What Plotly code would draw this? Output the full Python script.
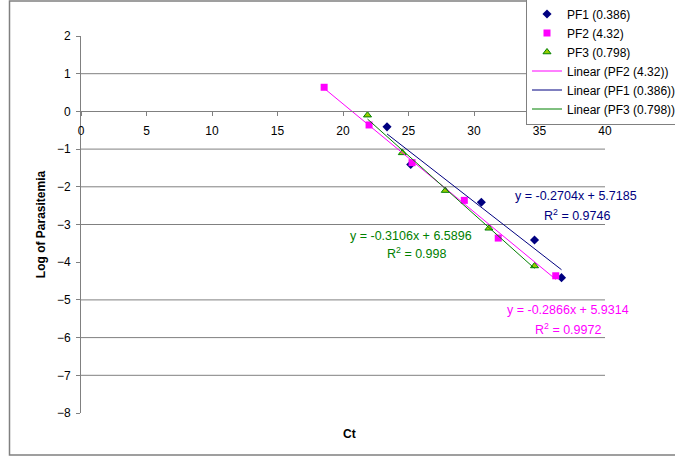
import numpy as np
import plotly.graph_objects as go

# ---- data ----
pf1_ct = [23.36, 25.17, 30.56, 34.62, 36.68]
pf1_log = [-0.41, -1.41, -2.41, -3.41, -4.41]

pf2_ct = [18.56, 21.99, 25.27, 29.26, 31.85, 36.24]
pf2_log = [0.64, -0.36, -1.36, -2.36, -3.36, -4.36]

pf3_ct = [21.87, 24.53, 27.81, 31.14, 34.62]
pf3_log = [-0.10, -1.10, -2.10, -3.10, -4.10]

series_names = ["PF1 (0.386)", "PF2 (4.32)", "PF3 (0.798)"]
trend_slope = [-0.2704, -0.2866, -0.3106]
trend_intercept = [5.7185, 5.9314, 6.5896]
trend_r2 = ["0.9746", "0.9972", "0.998"]

x_ticks = [0, 5, 10, 15, 20, 25, 30, 35, 40]
y_ticks = [2, 1, 0, -1, -2, -3, -4, -5, -6, -7, -8]
grid_y = [1, -1, -2, -3, -5, -6, -7]

FONT = "Liberation Sans, Arial, sans-serif"
NAVY = "#000080"
MAGENTA = "#FF00FF"
GREEN = "#008000"

# plot-area geometry in pixels (for converting label positions to paper coords)
L, R, T, B = 81, 605, 36, 413
def px(x):
    return (x - L) / (R - L)
def py(y):
    return (B - y) / (B - T)

fig = go.Figure()

fig.add_trace(go.Scatter(x=pf1_ct, y=pf1_log, mode="markers", name=series_names[0],
                         marker=dict(symbol="diamond", size=7, color=NAVY)))
fig.add_trace(go.Scatter(x=pf2_ct, y=pf2_log, mode="markers", name=series_names[1],
                         marker=dict(symbol="square", size=7, color=MAGENTA)))
fig.add_trace(go.Scatter(x=pf3_ct, y=pf3_log, mode="markers", name=series_names[2],
                         marker=dict(symbol="triangle-up", size=7, color="#99CC00",
                                     line=dict(color=GREEN, width=1))))

# trendlines (Excel linear trendlines, drawn over each series' x span)
series_x = [pf1_ct, pf2_ct, pf3_ct]
colors = [NAVY, MAGENTA, GREEN]
order = [1, 0, 2]  # legend order: PF2, PF1, PF3
for i in order:
    xs = np.array([min(series_x[i]), max(series_x[i])])
    ys = trend_slope[i] * xs + trend_intercept[i]
    fig.add_trace(go.Scatter(x=xs, y=ys, mode="lines",
                             name=f"Linear ({series_names[i]})",
                             line=dict(color=colors[i], width=1)))

shapes = []
for g in grid_y:
    shapes.append(dict(type="line", xref="paper", yref="y", x0=0, x1=1, y0=g, y1=g,
                       line=dict(color="#808080", width=1), layer="below"))
# outer chart border
shapes.append(dict(type="rect", xref="paper", yref="paper",
                   x0=px(9.5), x1=px(690), y0=py(455), y1=py(1),
                   line=dict(color="#808080", width=1.5), layer="below"))

annotations = []
eq_pos = [(576, 196, 577, 215), (568, 310, 568, 329), (411, 236, 416, 253)]
for i in range(3):
    a, b = trend_slope[i], trend_intercept[i]
    ex, ey, rx, ry = eq_pos[i]
    annotations.append(dict(xref="paper", yref="paper", x=px(ex), y=py(ey),
                            xanchor="center", yanchor="middle",
                            text=f"y = {a}x + {b}", showarrow=False,
                            font=dict(family=FONT, size=12.5, color=colors[i])))
    annotations.append(dict(xref="paper", yref="paper", x=px(rx), y=py(ry),
                            xanchor="center", yanchor="middle",
                            text=f"R<sup>2</sup> = {trend_r2[i]}", showarrow=False,
                            font=dict(family=FONT, size=12.5, color=colors[i])))
annotations.append(dict(xref="paper", yref="paper", x=px(349), y=py(434),
                        xanchor="center", yanchor="middle",
                        text="<b>Ct</b>", showarrow=False,
                        font=dict(family=FONT, size=12, color="black")))

fig.update_layout(
    width=675, height=457,
    margin=dict(l=L, r=675 - R, t=T, b=457 - B, autoexpand=False),
    paper_bgcolor="white", plot_bgcolor="white",
    font=dict(family=FONT, size=12, color="black"),
    showlegend=True,
    legend=dict(x=px(526), y=py(-1.5), xanchor="left", yanchor="top",
                bgcolor="white", bordercolor="#808080", borderwidth=1,
                font=dict(family=FONT, size=12, color="black"), tracegroupgap=0),
    shapes=shapes,
    annotations=annotations,
    xaxis=dict(range=[0, 40], tickvals=x_ticks, anchor="free", position=0.8,
               automargin=False,
               showline=True, linecolor="#808080", linewidth=1,
               ticks="outside", ticklen=4, tickcolor="#808080", ticklabelstandoff=4,
               showgrid=False, zeroline=False, tickfont=dict(size=12)),
    yaxis=dict(range=[-8, 2], tickvals=y_ticks, showline=True, linecolor="#808080",
               automargin=False,
               ticks="outside", ticklen=4, tickcolor="#808080", ticklabelstandoff=3,
               showgrid=False, zeroline=False, tickfont=dict(size=12),
               title=dict(text="<b>Log of Parasitemia</b>", standoff=8,
                          font=dict(size=12))),
)

fig.write_html("out.html", config={"displayModeBar": False},
               post_script="document.body.style.margin='0';document.body.style.overflow='hidden';")
